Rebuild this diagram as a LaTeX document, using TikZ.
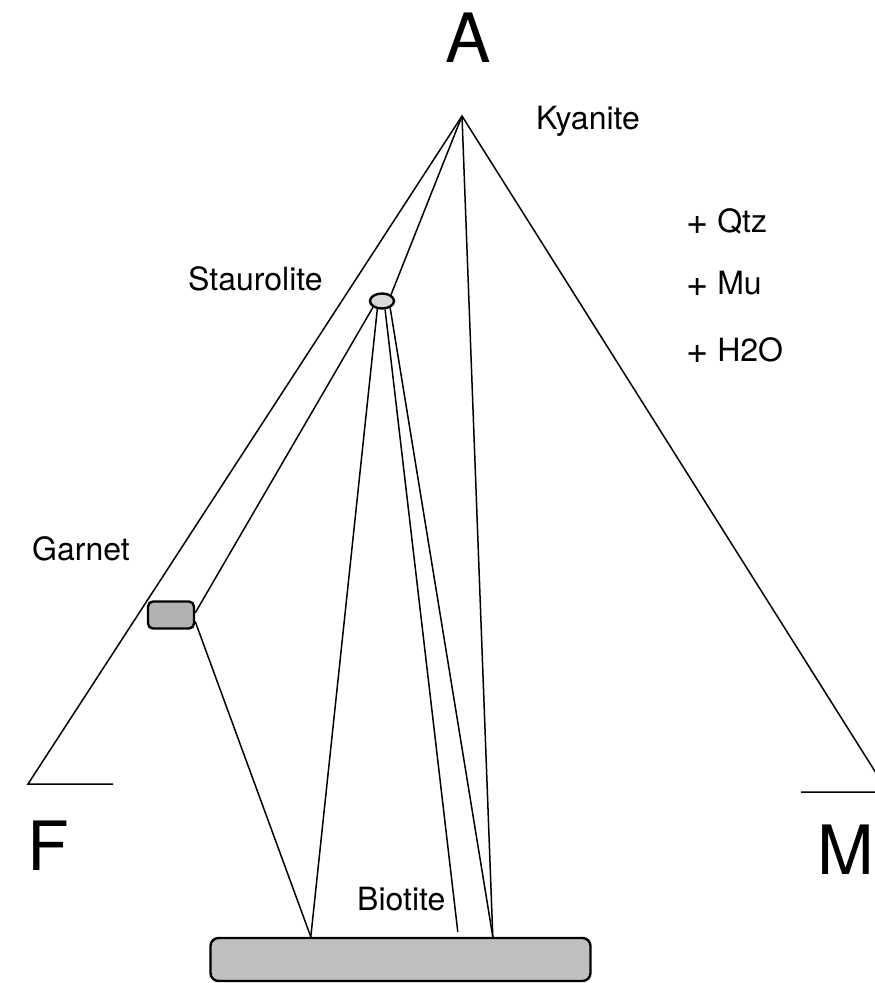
\documentclass[tikz,border=0pt]{standalone}
\usepackage{fontspec}
\setmainfont{TeX Gyre Heros}
\usetikzlibrary{shapes.geometric, calc, backgrounds}
\newcommand{\bigplus}{\raisebox{-2pt}{\fontsize{38}{38}\selectfont+}}

\begin{document}
\begin{tikzpicture}[
    x=1pt, y=-1pt,
    mineral/.style={draw, line width=2.4pt, inner sep=0pt, fill=gray!50},
    tie/.style={line width=1.5pt},
    lbl/.style={anchor=base west, inner sep=0pt, font=\fontsize{32}{36}\selectfont},
    corner/.style={anchor=base, inner sep=0pt, font=\fontsize{68}{70}\selectfont}
]
    \useasboundingbox (0,0) rectangle (875,983);
    \clip (0,0) rectangle (875,983);

    % Ecken des Dreiecks
    \node [corner] (A) at (468,62) {A};
    \node [corner] (F) at (48,870) {F};
    \node [corner] (M) at (846,874) {M};
    \coordinate (apex) at (462,116);
    \coordinate (fc) at (28,784);
    \coordinate (fe) at (113,784);
    \coordinate (mc) at (888,792);
    \coordinate (me) at (801,792);

    % Minerale
    \node [mineral, ellipse, fill=gray!30, minimum width=24pt, minimum height=15pt] (stau) at (382,301) {};
    \node [mineral, rectangle, rounded corners=5pt, fill=gray!60, minimum width=46pt, minimum height=27pt] (grt) at (171,615) {};
    \node [mineral, rectangle, rounded corners=8pt, minimum width=380pt, minimum height=43pt] (bt) at (400.5,959.5) {};
    \coordinate (bt1) at ($(bt.north west)+(101.5,0)$);
    \coordinate (bt2) at ($(bt.north west)+(248.5,-5)$);
    \coordinate (bt3) at ($(bt.north west)+(283.5,0)$);

    % Beschriftungen
    \node [lbl] (kya) at (536,129) {Kyanite};
    \node [lbl] (stl) at (188,290) {Staurolite};
    \node [lbl] (grl) at (32,560) {Garnet};
    \node [lbl] (btl) at (357,910) {Biotite};
    \node [lbl] (qtz) at (686,232) {\bigplus\ Qtz};
    \node [lbl] (mu) at (686,294) {\bigplus\ Mu};
    \node [lbl] (h2o) at (686,361) {\bigplus\ H2O};

    % Verbindungslinien (unter den Mineralen)
    \begin{scope}[on background layer]
        \draw [tie] (fe) -- (fc) -- (apex) -- (mc) -- (me);
        \draw [tie] (apex) -- (stau.35);
        \draw [tie] (apex) -- (bt3);
        \draw [tie] (stau.215) -- (grt.5);
        \draw [tie] (grt.-15) -- (bt1);
        \draw [tie] (stau.240) -- (bt1);
        \draw [tie] (stau.290) -- (bt2);
        \draw [tie] (stau.320) -- (bt3);
    \end{scope}

\end{tikzpicture}
\end{document}
